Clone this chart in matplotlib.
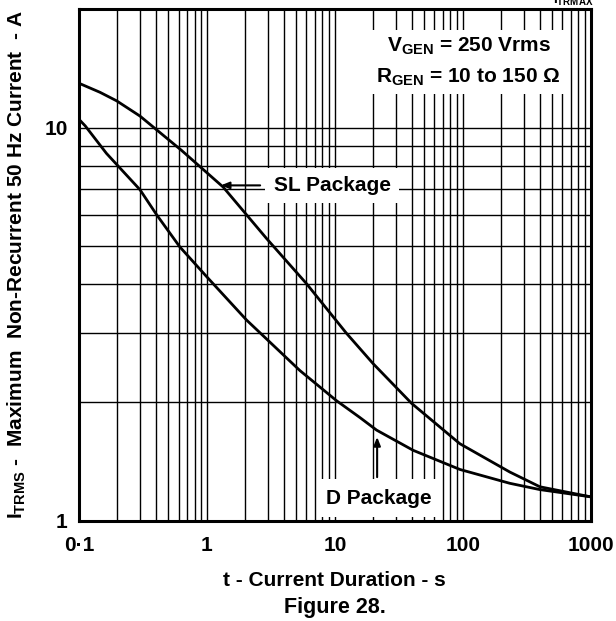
import numpy as np
from matplotlib import pyplot as plt
from matplotlib.ticker import FixedLocator, NullFormatter

plt.rcParams['font.family'] = ['Liberation Sans', 'DejaVu Sans']
plt.rcParams['font.weight'] = 'bold'
plt.rcParams['mathtext.fontset'] = 'custom'
plt.rcParams['mathtext.rm'] = 'Liberation Sans:bold'
plt.rcParams['mathtext.bf'] = 'Liberation Sans:bold'

# values
t_sl = [0.1, 0.146, 0.197, 0.30, 0.634, 1.34, 2.93, 6.0, 12.3, 19.9, 39.7, 94.8, 233, 400, 1000]
i_sl = [12.97, 12.3, 11.7, 10.7, 8.75, 7.06, 5.22, 4.01, 3.0, 2.51, 1.99, 1.57, 1.33, 1.22, 1.15]

t_d = [0.1, 0.112, 0.164, 0.30, 0.405, 0.615, 1.0, 2.04, 5.33, 10.3, 15.7, 21.2, 41, 95, 233, 400, 1000]
i_d = [10.5, 10.1, 8.6, 6.95, 6.0, 4.97, 4.17, 3.24, 2.41, 2.02, 1.83, 1.70, 1.51, 1.35, 1.245, 1.20, 1.15]

x_major = [0.1, 1, 10, 100, 1000]
x_labels = ['0\u00b71', '1', '10', '100', '1000']
y_major = [1, 10]
y_labels = ['1', '10']

fig = plt.figure(figsize=(6.16, 6.21), dpi=100)
ax = fig.add_axes([0.1282, 0.1615, 0.959 - 0.1282, 0.985 - 0.1615])

ax.set_xscale('log')
ax.set_yscale('log')
ax.set_xlim(0.1, 1000)
ax.set_ylim(1, 20)

ax.plot(t_sl, i_sl, color='black', lw=2.0, zorder=3)
ax.plot(t_d, i_d, color='black', lw=2.0, zorder=3)

ax.xaxis.set_major_locator(FixedLocator(x_major))
ax.set_xticklabels(x_labels)
ax.yaxis.set_major_locator(FixedLocator(y_major))
ax.set_yticklabels(y_labels)
ax.xaxis.set_minor_formatter(NullFormatter())
ax.yaxis.set_minor_formatter(NullFormatter())
ax.tick_params(which='both', length=0, labelsize=15)
ax.tick_params(axis='x', pad=11)
ax.tick_params(axis='y', pad=8)
ax.grid(which='both', color='black', lw=1.0, zorder=1)
for s in ax.spines.values():
    s.set_linewidth(2.2)
    s.set_zorder(4)

ax.set_xlabel('t - Current Duration - s', fontsize=15, fontweight='bold')
ax.xaxis.set_label_coords(0.5, -0.098)
ax.set_ylabel(r'$\mathregular{I_{TRMS}}$ -  Maximum  Non-Recurrent 50 Hz Current  - A',
              fontsize=15, fontweight='bold', labelpad=12)
fig.text(0.544, 0.0225, 'Figure 28.', ha='center', va='center', fontsize=15.5, fontweight='bold')
fig.text(0.963, 1 - 4 / 621, r'$\mathregular{I_{TRMAX}}$', ha='right', va='baseline',
         fontsize=10, fontweight='bold')

# annotations
arrow = dict(arrowstyle='-|>,head_length=0.5,head_width=0.2', color='black', lw=1.5)
ax.text(9.5, 7.13, 'SL Package', ha='center', va='center', fontsize=15, fontweight='bold',
        bbox=dict(boxstyle='square,pad=0.4', fc='white', ec='none'), zorder=5)
ax.annotate('', xy=(1.22, 7.13), xytext=(2.74, 7.13), zorder=5, arrowprops=arrow)
ax.text(22.1, 1.14, 'D Package', ha='center', va='center', fontsize=15, fontweight='bold',
        bbox=dict(boxstyle='square,pad=0.45', fc='white', ec='none'), zorder=5)
ax.annotate('', xy=(21.4, 1.66), xytext=(21.4, 1.27), zorder=5, arrowprops=arrow)
ax.text(111, 14.7, '$\\mathregular{V_{GEN}}$ = 250 Vrms\n$\\mathregular{R_{GEN}}$ = 10 to 150 \u03a9',
        ha='center', va='center', fontsize=15, fontweight='bold', linespacing=1.6,
        bbox=dict(boxstyle='square,pad=0.27', fc='white', ec='none'), zorder=5)

fig.savefig('out.png', dpi=100)
